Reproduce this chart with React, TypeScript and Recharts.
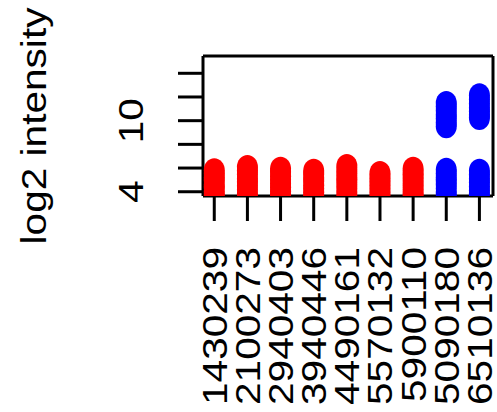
import React from "react";
import { ScatterChart, Scatter, XAxis, YAxis, ReferenceLine } from "recharts";

// R-style stripchart: log2 intensity per sample, red = group A, blue = group B.

const categories = [
  "1430239",
  "2100273",
  "2940403",
  "3940446",
  "4490161",
  "5570132",
  "5900110",
  "5090180",
  "6510136",
];

// values, top of each strip downwards
const s1430239 = [5.81, 5.52, 5.2, 4.95, 4.6, 4.31, 4.02, 3.7, 3.4];
const s2100273 = [6.09, 5.8, 5.47, 5.1, 4.84, 4.5, 4.16, 3.83, 3.5];
const s2940403 = [5.94, 5.66, 5.3, 5.02, 4.7, 4.38, 4.05, 3.72, 3.45];
const s3940446 = [5.78, 5.5, 5.18, 4.9, 4.55, 4.25, 3.96, 3.66, 3.4];
const s4490161 = [6.17, 5.85, 5.55, 5.2, 4.9, 4.6, 4.25, 3.9, 3.55];
const s5570132 = [5.58, 5.3, 5.0, 4.72, 4.4, 4.1, 3.8, 3.5];
const s5900110 = [5.94, 5.62, 5.33, 5.0, 4.68, 4.36, 4.02, 3.7, 3.42];
const s5090180 = [11.5, 11.2, 10.85, 10.5, 10.2, 9.85, 9.53, 5.86, 5.55, 5.2, 4.9, 4.58, 4.25, 3.9, 3.6];
const s6510136 = [12.15, 11.8, 11.45, 11.1, 10.8, 10.5, 10.23, 5.78, 5.45, 5.1, 4.8, 4.45, 4.1, 3.8, 3.5];

const redSamples = [s1430239, s2100273, s2940403, s3940446, s4490161, s5570132, s5900110];
const blueSamples = [s5090180, s6510136];

const yTicks = [4, 6, 8, 10, 12, 14];
const yLabelled = [4, 10];

const xDomain = [0.66, 9.41];
const yDomain = [3.64, 15.46];

const toPoints = (groups: number[][], startIndex: number) =>
  groups.flatMap((vals, i) => vals.map((v) => ({ x: startIndex + i + 1, y: v })));

const redData = toPoints(redSamples, 0);
const blueData = toPoints(blueSamples, redSamples.length);

const FONT = "'Liberation Sans', Arial, Helvetica, sans-serif";
const FS = 35;
const STRETCH = 1.16;

function XTick(props: any) {
  const { x, y, payload } = props;
  const label = categories[payload.value - 1] ?? "";
  return (
    <text
      transform={`translate(${x},${y + 24}) scale(1,${STRETCH}) rotate(-90)`}
      x={0}
      y={12.5}
      textAnchor="end"
      fontSize={FS}
      fontFamily={FONT}
      fill="#000"
    >
      {label}
    </text>
  );
}

function YTick(props: any) {
  const { x, y, payload } = props;
  if (!yLabelled.includes(payload.value)) return <g />;
  return (
    <text
      transform={`translate(${x - 33},${y}) scale(1,${STRETCH}) rotate(-90)`}
      x={0}
      y={0}
      textAnchor="middle"
      fontSize={FS}
      fontFamily={FONT}
      fill="#000"
    >
      {String(payload.value)}
    </text>
  );
}

const renderTitle = () => (
  <text
    transform={`translate(45.5,126) scale(1,${STRETCH}) rotate(-90)`}
    x={0}
    y={0}
    textAnchor="middle"
    fontSize={FS}
    fontFamily={FONT}
    fill="#000"
  >
    log2 intensity
  </text>
);

const dot = (color: string) => (p: any) =>
  <ellipse cx={p.cx} cy={p.cy} rx={10.5} ry={12} fill={color} />;

export default function App() {
  const line = { stroke: "#000", strokeWidth: 3 };
  return (
    <div style={{ position: "absolute", left: 0, top: 0, width: 497, height: 412, background: "#fff" }}>
      <ScatterChart width={497} height={412} margin={{ top: 56, right: 4, bottom: 0, left: 0 }}>
        <XAxis
          dataKey="x"
          type="number"
          domain={xDomain}
          ticks={categories.map((_, i) => i + 1)}
          allowDataOverflow
          height={216}
          tickSize={25}
          tickLine={line}
          axisLine={line}
          tick={<XTick />}
          interval={0}
        />
        <YAxis
          dataKey="y"
          type="number"
          domain={yDomain}
          ticks={yTicks}
          allowDataOverflow
          width={203}
          tickSize={25}
          tickLine={line}
          axisLine={line}
          tick={<YTick />}
          interval={0}
          label={renderTitle}
        />
        <Scatter data={redData} shape={dot("#FF0000")} isAnimationActive={false} />
        <Scatter data={blueData} shape={dot("#0000FF")} isAnimationActive={false} />
        {/* close the box on top and right like R's box() */}
        <ReferenceLine y={yDomain[1]} stroke="#000" strokeWidth={3} ifOverflow="visible" />
        <ReferenceLine x={xDomain[1]} stroke="#000" strokeWidth={3} ifOverflow="visible" />
      </ScatterChart>
    </div>
  );
}
